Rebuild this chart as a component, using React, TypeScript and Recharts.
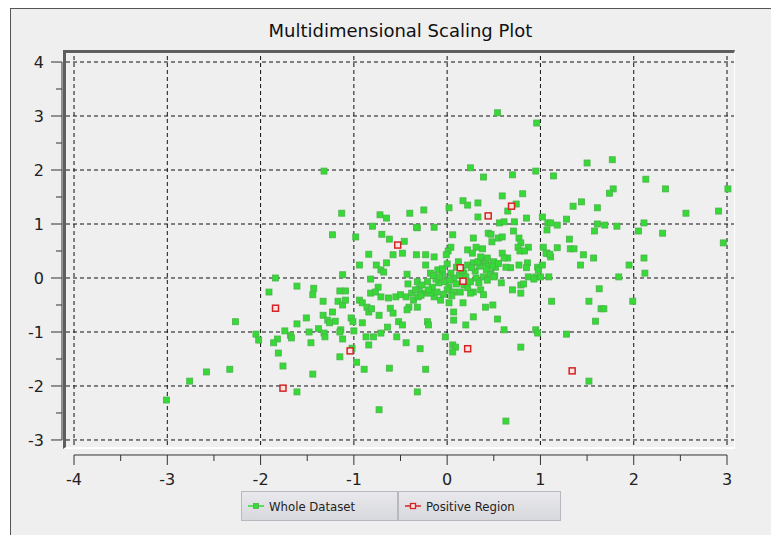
import React from 'react';
import { ScatterChart, Scatter, XAxis, YAxis, ReferenceLine, Legend } from 'recharts';

// axis ranges are padded a bit so the -4..3 / -3..4 grid sits inside the sunken canvas
const X_DOMAIN: [number, number] = [-4.086, 3.075];
const Y_DOMAIN: [number, number] = [-3.093, 4.167];
// where the detached axis backbones sit (in data units, outside the canvas)
const Y_AXIS_AT = -4.129;
const X_AXIS_AT = -3.278;

const xTicks = [-4, -3.5, -3, -2.5, -2, -1.5, -1, -0.5, 0, 0.5, 1, 1.5, 2, 2.5, 3];
const yTicks = [-3, -2.5, -2, -1.5, -1, -0.5, 0, 0.5, 1, 1.5, 2, 2.5, 3, 3.5, 4];
const xGridLines = [-4, -3, -2, -1, 0, 1, 2, 3];
const yGridLines = [-3, -2, -1, 0, 1, 2, 3, 4];
const legendOrder = ['Whole Dataset', 'Positive Region'];

const wholeDataset: [number, number][] = [
  // left tail / outliers
  [-1.23, 0.8], [-0.98, 0.76], [-0.7, 0.81], [-0.62, 0.72], [-0.46, 0.68],
  [-1.84, 0.0], [-1.91, -0.26], [-1.82, -1.13], [-1.86, -1.2], [-1.81, -1.39],
  [-1.76, -1.63], [-2.05, -1.04], [-2.02, -1.15], [-2.27, -0.81], [-2.33, -1.69],
  [-2.58, -1.74], [-2.76, -1.91], [-3.01, -2.26], [-1.44, -1.78], [-1.61, -2.11],
  [-1.02, -1.3], [-1.15, -1.46], [-0.97, -1.56], [-0.89, -1.69], [-0.62, -1.67],
  [-0.73, -2.44],
  [-1.32, 1.98], [-1.13, 1.2], [-0.72, 1.17], [-0.65, 1.11], [-0.4, 1.2],
  [-0.8, 0.96], [-0.32, 0.93],
  // left-centre
  [-0.84, 0.44], [-0.58, 0.43], [-0.48, 0.46], [-0.33, 0.43], [-0.94, 0.24],
  [-0.76, 0.24], [-0.71, 0.15], [-0.68, 0.11], [-0.65, 0.28], [-1.12, 0.06],
  [-0.82, -0.02], [-0.43, 0.07], [-0.42, -0.11], [-0.32, -0.07], [-1.61, -0.15],
  [-1.43, -0.19], [-1.44, -0.31], [-1.15, -0.24], [-1.09, -0.24], [-0.74, -0.17],
  [-0.82, -0.28], [-0.77, -0.26], [-0.71, -0.35], [-0.63, -0.37], [-0.55, -0.35],
  [-0.5, -0.31], [-0.44, -0.35], [-0.38, -0.28], [-0.36, -0.41], [-0.31, -0.35],
  [-0.41, -0.54], [-0.43, -0.59], [-0.32, -0.54], [-0.94, -0.41], [-0.91, -0.46],
  [-0.86, -0.54], [-0.84, -0.63], [-0.81, -0.57], [-0.73, -0.69], [-0.61, -0.56],
  [-0.58, -0.65], [-1.33, -0.43], [-1.17, -0.43], [-1.12, -0.5], [-1.09, -0.41],
  [-1.23, -0.63], [-1.33, -0.69], [-1.28, -0.78], [-1.26, -0.83], [-1.2, -0.8],
  [-1.14, -0.96], [-1.03, -0.74], [-1.01, -0.81], [-0.91, -0.83], [-1.61, -0.85],
  [-1.51, -0.74], [-1.74, -0.98], [-1.68, -1.06], [-1.67, -1.11], [-1.48, -1.0],
  [-1.46, -1.2], [-1.38, -0.94], [-1.32, -1.02], [-1.31, -1.09], [-1.15, -1.0],
  [-1.0, -0.98], [-1.12, -1.13], [-0.87, -1.09], [-0.79, -1.09], [-0.71, -1.02],
  [-0.64, -0.91], [-0.52, -0.81], [-0.48, -0.87], [-0.54, -1.09], [-0.44, -1.2],
  [-0.84, -1.24],
  // dense centre
  [-0.23, 0.24], [-0.18, 0.09], [-0.1, 0.15], [-0.05, 0.06], [0.04, 0.09],
  [0.07, 0.0], [-0.21, -0.07], [-0.16, -0.17], [-0.09, -0.09], [-0.02, -0.07],
  [0.02, -0.17], [-0.25, -0.28], [-0.14, -0.35], [-0.07, -0.41], [0.07, -0.26],
  [0.18, -0.13], [0.25, -0.07], [0.31, 0.0], [0.39, 0.02], [0.47, 0.09],
  [0.22, 0.24], [0.28, 0.28], [0.38, 0.28], [0.44, 0.24], [0.52, 0.2],
  [0.18, 0.09], [0.34, -0.09], [0.28, -0.26], [0.36, -0.22], [0.25, -0.28],
  [0.14, -0.26], [0.39, -0.31],
  [-0.05, 0.17], [0.0, 0.26], [0.1, 0.2], [0.12, 0.3], [-0.12, -0.02],
  [-0.3, -0.2], [-0.27, -0.13], [0.1, -0.11], [0.2, 0.02], [0.3, 0.13],
  [0.42, 0.15], [0.35, 0.22], [-0.18, -0.28], [0.0, -0.22], [0.5, 0.3],
  [0.46, 0.06],
  [-0.2, -0.22], [-0.11, -0.26], [-0.04, -0.3], [-0.28, -0.32], [-0.34, -0.22],
  [-0.08, 0.02], [0.03, -0.04], [0.13, 0.05], [0.26, 0.19], [0.33, 0.3],
  [0.41, 0.33], [0.49, 0.22], [0.55, 0.27], [0.16, 0.14], [-0.15, 0.05],
  [0.05, -0.33], [0.22, -0.18], [0.43, -0.04],
  [0.59, 0.46], [0.65, 0.37], [0.68, 0.19], [0.77, 0.24], [0.86, 0.28],
  [0.85, 0.19], [0.97, 0.2], [0.98, 0.15], [1.02, 0.24], [1.07, 0.46],
  [1.11, 0.39], [0.51, 0.04], [0.58, -0.09], [0.7, -0.22], [0.79, -0.13],
  [0.82, -0.11], [0.79, -0.28], [0.87, 0.02], [0.95, 0.02], [1.0, 0.02],
  [1.09, 0.02], [1.12, -0.43], [0.17, -0.46], [0.28, -0.72], [0.41, -0.54],
  [0.49, -0.5], [0.54, -0.76], [0.07, -0.63], [0.07, -0.78], [0.02, -0.46],
  [-0.21, -0.81], [-0.2, -0.87], [0.2, -0.87], [0.61, -0.96], [0.95, -0.96],
  [0.97, -1.02], [0.79, -1.28], [-0.02, -1.09], [0.06, -1.24], [0.09, -1.28],
  [0.93, -0.02], [0.63, 0.2], [0.5, 0.02],
  // upper centre
  [0.25, 2.04], [0.39, 1.87], [0.7, 1.91], [0.95, 1.98], [1.14, 1.89],
  [-0.25, 1.26], [0.02, 1.3], [0.17, 1.43], [0.22, 1.35], [0.33, 1.39],
  [0.59, 1.52], [0.81, 1.56], [0.74, 1.37], [0.65, 1.24], [0.33, 1.13],
  [0.85, 1.11], [0.56, 1.02], [0.61, 1.04], [0.72, 1.04], [-0.14, 0.94],
  [1.02, 1.13], [1.08, 1.02], [1.07, 0.89], [1.11, 1.02], [1.18, 0.98],
  [0.44, 0.83], [0.47, 0.81], [0.71, 0.87], [0.06, 0.8], [0.28, 0.74],
  [0.55, 0.74], [0.59, 0.76], [0.48, 0.67], [0.77, 0.74], [0.79, 0.65],
  [0.31, 0.57], [0.38, 0.54], [0.76, 0.57], [0.78, 0.5], [0.87, 0.57],
  [0.83, 0.5], [1.03, 0.57], [1.06, 0.46], [1.1, 0.44], [1.18, 0.56],
  [0.04, 0.57], [0.01, 0.5], [-0.01, 0.43], [0.22, 0.52], [0.27, 0.46],
  [0.36, 0.39], [0.43, 0.37], [-0.23, 0.43], [-0.14, 0.39], [0.61, 0.37],
  // right side and top
  [0.54, 3.06], [0.96, 2.87], [1.5, 2.13], [1.77, 2.19], [2.13, 1.83],
  [2.34, 1.65], [3.01, 1.65], [1.78, 1.65], [1.74, 1.57], [1.35, 1.33],
  [1.44, 1.41], [1.61, 1.3], [1.28, 1.09], [1.61, 1.0], [1.69, 0.98],
  [1.82, 0.96], [2.11, 1.02], [2.56, 1.2], [2.91, 1.24], [-0.33, 0.94],
  [1.31, 0.72], [1.32, 0.54], [1.36, 0.54], [1.46, 0.43], [1.57, 0.37],
  [1.43, 0.24], [1.58, 0.87], [2.05, 0.87], [2.31, 0.83], [2.11, 0.37],
  [1.95, 0.24], [2.12, 0.09], [1.84, 0.02], [1.63, -0.2], [1.52, -0.43],
  [1.65, -0.57], [1.68, -0.57], [1.59, -0.8], [1.99, -0.43], [1.28, -1.04],
  [2.96, 0.65], [1.52, -1.91], [0.63, -2.65], [-0.23, -1.69], [-0.32, -2.11],
  [-0.29, -1.31], [0.06, -1.37],
];

const positiveRegion: [number, number][] = [
  [-0.53, 0.61], [-1.84, -0.56], [-1.76, -2.04], [-1.04, -1.35], [1.34, -1.72],
  [0.22, -1.31], [0.17, -0.06], [0.14, 0.19], [0.69, 1.33], [0.44, 1.15],
];

const GREEN = '#36da36';
const GREEN_EDGE = '#4cb24c';
const RED = '#d42424';

const wholeData = wholeDataset.map(([x, y]) => ({ x, y }));
const positiveData = positiveRegion.map(([x, y]) => ({ x, y }));

const GreenSquare = (props: any) => (
  <rect x={props.cx - 3} y={props.cy - 3} width={6} height={6} fill={GREEN} stroke={GREEN_EDGE} strokeWidth={0.8} />
);

const RedSquare = (props: any) => (
  <rect x={props.cx - 3} y={props.cy - 3} width={6} height={6} fill="#fbe3e3" stroke={RED} strokeWidth={1.5} />
);

const XTick = (props: any) => {
  const { x, y, payload } = props;
  const major = Number.isInteger(payload.value);
  const base = y + 10;
  return (
    <g>
      <line x1={x} x2={x} y1={base} y2={base + (major ? 10 : 6)} stroke="#333" />
      {major && (
        <text x={x} y={base + 30} textAnchor="middle" fontSize={16} fill="#222" fontFamily="DejaVu Sans">
          {payload.value}
        </text>
      )}
    </g>
  );
};

const YTick = (props: any) => {
  const { x, y, payload } = props;
  const major = Number.isInteger(payload.value);
  const base = x - 4;
  return (
    <g>
      <line x1={base - (major ? 11 : 6)} x2={base} y1={y} y2={y} stroke="#333" />
      {major && (
        <text x={base - 18} y={y} dy="0.36em" textAnchor="end" fontSize={16} fill="#222" fontFamily="DejaVu Sans">
          {payload.value}
        </text>
      )}
    </g>
  );
};

const LegendIcon = ({ name }: { name: string }) => {
  const red = name === 'Positive Region';
  return (
    <svg width={16} height={10} style={{ marginRight: 5 }}>
      <line x1={0} x2={16} y1={5} y2={5} stroke={red ? RED : GREEN} strokeWidth={1.5} />
      <rect x={5.5} y={2.5} width={5} height={5} fill={red ? '#fbe3e3' : GREEN} stroke={red ? RED : GREEN_EDGE} strokeWidth={red ? 1.3 : 0.8} />
    </svg>
  );
};

const LegendButtons = (props: any) => {
  const widths = [157, 163];
  const items = [...(props.payload || [])].sort(
    (a: any, b: any) => legendOrder.indexOf(a.value) - legendOrder.indexOf(b.value)
  );
  return (
    <div style={{ display: 'flex' }}>
      {items.map((entry: any, i: number) => (
        <div
          key={entry.value}
          style={{
            width: widths[i],
            height: 30,
            boxSizing: 'border-box',
            border: '1px solid #b8b9c0',
            background: 'linear-gradient(#e9e9ed, #d7d8dd)',
            display: 'flex',
            alignItems: 'center',
            paddingLeft: 6,
            fontFamily: '"DejaVu Sans Condensed", "DejaVu Sans", sans-serif',
            fontSize: 13,
            color: '#222',
          }}
        >
          <LegendIcon name={entry.value} />
          {entry.value}
        </div>
      ))}
    </div>
  );
};

export default function App() {
  return (
    <div style={{ position: 'relative', width: 771, height: 535, background: '#fff', overflow: 'hidden' }}>
      <style>{'body{margin:0}'}</style>
      <div
        style={{
          position: 'absolute', left: 10, top: 8, width: 780, height: 540,
          background: '#efefef', borderLeft: '1px solid #555', borderTop: '1px solid #555',
        }}
      />
      <div
        style={{
          position: 'absolute', left: 63, top: 50, width: 672, height: 399, boxSizing: 'border-box',
          borderTop: '3px solid #5e5e5e', borderLeft: '3px solid #5e5e5e',
          borderBottom: '2px solid #fff', borderRight: '1px solid #fff',
        }}
      />
      <div
        style={{
          position: 'absolute', left: 0, width: 801, top: 20, textAlign: 'center',
          fontFamily: 'DejaVu Sans', fontSize: 18, color: '#111',
        }}
      >
        Multidimensional Scaling Plot
      </div>
      <div style={{ position: 'absolute', left: 0, top: 0 }}>
        <ScatterChart width={771} height={535} margin={{ top: 53, right: 37, left: 0, bottom: 0 }}>
          <XAxis
            type="number" dataKey="x" domain={X_DOMAIN} allowDataOverflow ticks={xTicks} interval={0}
            height={90} axisLine={false} tickLine={false} tickSize={0} tickMargin={0} tick={XTick}
          />
          <YAxis
            type="number" dataKey="y" domain={Y_DOMAIN} allowDataOverflow ticks={yTicks} interval={0}
            width={66} axisLine={false} tickLine={false} tickSize={0} tickMargin={0} tick={YTick}
          />
          {xGridLines.map((v) => (
            <ReferenceLine key={'gx' + v} x={v} stroke="#111" strokeDasharray="4 3" />
          ))}
          {yGridLines.map((v) => (
            <ReferenceLine key={'gy' + v} y={v} stroke="#111" strokeDasharray="4 3" />
          ))}
          <ReferenceLine
            segment={[{ x: -4, y: X_AXIS_AT }, { x: 3, y: X_AXIS_AT }]}
            stroke="#333" ifOverflow="visible"
          />
          <ReferenceLine
            segment={[{ x: Y_AXIS_AT, y: -3 }, { x: Y_AXIS_AT, y: 4 }]}
            stroke="#333" ifOverflow="visible"
          />
          <Legend
            layout="horizontal" verticalAlign="middle" align="center"
            wrapperStyle={{ left: 241, top: 491, width: 'auto', height: 30 }}
            content={LegendButtons}
          />
          <Scatter name="Whole Dataset" data={wholeData} fill={GREEN} shape={GreenSquare} isAnimationActive={false} />
          <Scatter name="Positive Region" data={positiveData} fill={RED} shape={RedSquare} isAnimationActive={false} />
        </ScatterChart>
      </div>
    </div>
  );
}
